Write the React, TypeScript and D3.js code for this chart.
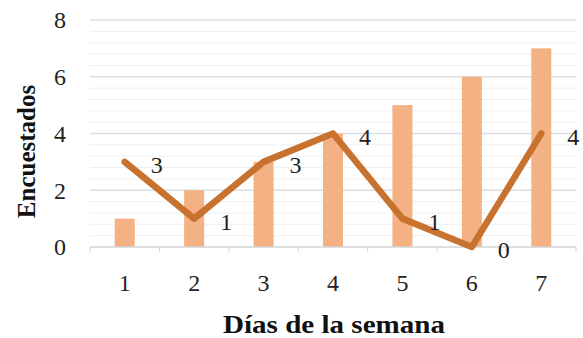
import * as React from 'react'
import * as d3 from 'd3'

const days = ['1', '2', '3', '4', '5', '6', '7']
const barValues = [1, 2, 3, 4, 5, 6, 7]
const lineValues = [3, 1, 3, 4, 1, 0, 4]
const yTicks = [0, 2, 4, 6, 8]

const barColor = '#F4B183'
const lineColor = '#C8722F'
const font = '"Liberation Serif", "DejaVu Serif", "Times New Roman", serif'

export default class App extends React.Component<{}, {}> {
    private node: SVGSVGElement | null = null
    private margin = { left: 90, top: 20, right: 7, bottom: 91 }

    componentDidMount() {
        this.draw()
    }

    componentDidUpdate() {
        this.draw()
    }

    private draw(): void {
        if (!this.node)
            return

        const svgwidth = 583
        const svgheight = 338
        const width = svgwidth - this.margin.left - this.margin.right
        const height = svgheight - this.margin.top - this.margin.bottom

        const svg = d3.select(this.node)
        svg.selectAll('*').remove()

        const g = svg.append('g').attr('transform', 'translate(' + this.margin.left + ',' + this.margin.top + ')')

        const x = d3.scaleBand<string>()
            .domain(days)
            .range([0, width])

        const y = d3.scaleLinear()
            .domain([0, 8])
            .range([height, 0])

        // minor gridlines
        g.append('g')
            .selectAll('line')
            .data(d3.range(0, 8.01, 0.4).filter(v => Math.abs(v / 2 - Math.round(v / 2)) > 0.01))
            .enter().append('line')
            .attr('x1', 0)
            .attr('x2', width)
            .attr('y1', d => y(d))
            .attr('y2', d => y(d))
            .attr('stroke', '#EFEFEF')
            .attr('stroke-width', 1)

        // major gridlines
        g.append('g')
            .selectAll('line')
            .data(yTicks.slice(1))
            .enter().append('line')
            .attr('x1', 0)
            .attr('x2', width)
            .attr('y1', d => y(d))
            .attr('y2', d => y(d))
            .attr('stroke', '#DADDE2')
            .attr('stroke-width', 1.3)

        // y axis labels
        g.append('g')
            .selectAll('text')
            .data(yTicks)
            .enter().append('text')
            .attr('x', -24)
            .attr('y', d => y(d))
            .attr('dy', '0.35em')
            .attr('text-anchor', 'end')
            .attr('font-family', font)
            .attr('font-size', 24)
            .attr('fill', '#222')
            .text(d => d)

        // bars
        const barWidth = 20
        g.append('g')
            .selectAll('rect')
            .data(barValues)
            .enter().append('rect')
            .attr('x', (d, i) => (x(days[i]) as number) + x.bandwidth() / 2 - barWidth / 2)
            .attr('y', d => y(d))
            .attr('width', barWidth)
            .attr('height', d => height - y(d))
            .attr('fill', barColor)

        // x axis
        const xAxis = g.append('g')
            .attr('transform', 'translate(0,' + height + ')')
        xAxis.append('line')
            .attr('x1', 0)
            .attr('x2', width)
            .attr('stroke', '#D4D4D4')
            .attr('stroke-width', 1.3)
        xAxis.selectAll('.tick')
            .data(days.concat(['end']))
            .enter().append('line')
            .attr('x1', (d, i) => x.step() * i)
            .attr('x2', (d, i) => x.step() * i)
            .attr('y1', 0)
            .attr('y2', 5)
            .attr('stroke', '#D4D4D4')
        xAxis.selectAll('text')
            .data(days)
            .enter().append('text')
            .attr('x', d => (x(d) as number) + x.bandwidth() / 2)
            .attr('y', 44)
            .attr('text-anchor', 'middle')
            .attr('font-family', font)
            .attr('font-size', 24)
            .attr('fill', '#222')
            .text(d => d)

        // line
        const line = d3.line<number>()
            .x((d, i) => (x(days[i]) as number) + x.bandwidth() / 2)
            .y(d => y(d))

        g.append('path')
            .datum(lineValues)
            .attr('fill', 'none')
            .attr('stroke', lineColor)
            .attr('stroke-width', 6.5)
            .attr('stroke-linejoin', 'round')
            .attr('stroke-linecap', 'round')
            .attr('d', line)

        // line data labels
        g.append('g')
            .selectAll('text')
            .data(lineValues)
            .enter().append('text')
            .attr('x', (d, i) => (x(days[i]) as number) + x.bandwidth() / 2 + 32)
            .attr('y', d => y(d) + 3)
            .attr('dy', '0.35em')
            .attr('text-anchor', 'middle')
            .attr('font-family', font)
            .attr('font-size', 24)
            .attr('fill', '#222')
            .text(d => d)

        // axis titles
        svg.append('text')
            .attr('x', 223)
            .attr('y', 333)
            .attr('textLength', 222)
            .attr('lengthAdjust', 'spacingAndGlyphs')
            .attr('font-family', font)
            .attr('font-weight', 'bold')
            .attr('font-size', 26)
            .attr('fill', '#111')
            .text('Días de la semana')

        svg.append('text')
            .attr('transform', 'translate(35,' + (this.margin.top + height / 2 + 18) + ') rotate(-90)')
            .attr('text-anchor', 'middle')
            .attr('font-family', font)
            .attr('font-weight', 'bold')
            .attr('font-size', 25)
            .attr('fill', '#111')
            .text('Encuestados')
    }

    render() {
        return (
            <svg
                width={583}
                height={338}
                style={{ position: 'absolute', left: 0, top: 0, background: '#fff' }}
                ref={node => { this.node = node }} />
        )
    }
}
